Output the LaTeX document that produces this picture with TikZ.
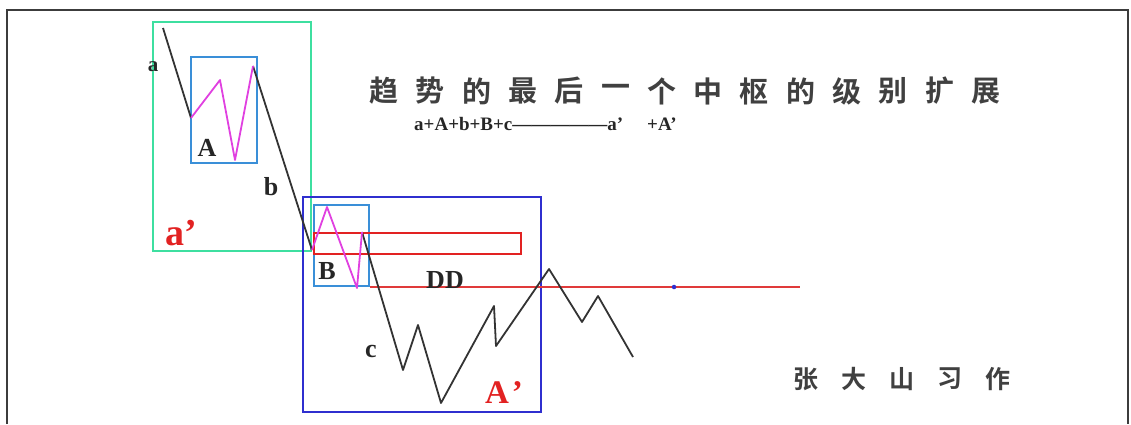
\documentclass[tikz,border=0pt]{standalone}
\usepackage{fontspec}
\setmainfont{Liberation Serif}
\newfontfamily\cjk{Noto Sans CJK SC Bold}
\definecolor{framegray}{HTML}{3C3C3C}
\definecolor{greenbox}{HTML}{3EDFA0}
\definecolor{lightblue}{HTML}{3A8FD8}
\definecolor{deepblue}{HTML}{2F2FCF}
\definecolor{redbox}{HTML}{E22222}
\definecolor{ddred}{HTML}{E03A3A}
\definecolor{pinkline}{HTML}{E040E0}
\definecolor{trendgray}{HTML}{333333}
\begin{document}
\begin{tikzpicture}[
  x=1pt, y=-1pt,
  frame/.style={draw=framegray, line width=2.4pt},
  box/.style={line width=1.8pt},
  trend/.style={draw=trendgray, line width=1.8pt, line join=round},
  sub/.style={draw=pinkline, line width=1.8pt, line join=round},
  lbl/.style={font=\bfseries\fontsize{26}{26}\selectfont, text=black!85, inner sep=0pt},
  big/.style={font=\bfseries\fontsize{38}{38}\selectfont, text=redbox, inner sep=0pt},
  zh/.style={font=\cjk\fontsize{29}{29}\selectfont, text=black!75, inner sep=0pt}
]
\useasboundingbox (0,0) rectangle (1131,424);

% outer frame
\draw[frame] (7,424) -- (7,10) -- (1128,10) -- (1128,424);

% centre boxes
\draw[box, draw=greenbox] (153,22) rectangle (311,251);
\draw[box, draw=lightblue] (191,57) rectangle (257,163);
\draw[box, draw=deepblue] (303,197) rectangle (541,412);
\draw[box, draw=lightblue] (314,205) rectangle (369,286);
\draw[box, draw=redbox] (314,233) rectangle (521,254);

% DD level
\coordinate (ddl) at (370,287);
\coordinate (ddr) at (800,287);
\draw[draw=ddred, line width=1.2pt] (ddl) -- (ddr);
\node[circle, fill=deepblue, inner sep=1.6pt] (dddot) at (674,287) {};

% turning points
\coordinate (p0) at (163,28);
\coordinate (p1) at (191,118);
\coordinate (p2) at (220,80);
\coordinate (p3) at (235,160);
\coordinate (p4) at (253,66);
\coordinate (p5) at (312,250);
\coordinate (p6) at (327,207);
\coordinate (p7) at (357,288);
\coordinate (p8) at (362,232);
\coordinate (p9) at (403,370);
\coordinate (p10) at (418,325);
\coordinate (p11) at (441,403);
\coordinate (p12) at (494,306);
\coordinate (p13) at (496,346);
\coordinate (p14) at (549,269);
\coordinate (p15) at (582,322);
\coordinate (p16) at (598,296);
\coordinate (p17) at (633,357);

% segments a, b, c
\draw[trend] (p0) -- (p1);
\draw[trend] (p4) -- (p5);
\draw[trend] (p8) -- (p9) -- (p10) -- (p11) -- (p12) -- (p13) -- (p14)
  -- (p15) -- (p16) -- (p17);

% centres A, B
\draw[sub] (p1) -- (p2) -- (p3) -- (p4);
\draw[sub] (p5) -- (p6) -- (p7) -- (p8);

% labels
\node[lbl, font=\bfseries\fontsize{21}{21}\selectfont] (la) at (153,67) {a};
\node[lbl] (lA) at (207,148) {A};
\node[lbl] (lb) at (271,187) {b};
\node[big] (lap) at (181,233) {a’};
\node[lbl] (lB) at (327,271) {B};
\node[lbl] (lDD) at (445,280) {DD};
\node[lbl] (lc) at (371,351) {c};
\node[big, font=\bfseries\fontsize{33}{33}\selectfont] (lAp) at (504,393) {A\hspace{3pt}’};

% title and note
\foreach \ch [count=\i from 0] in {趋,势,的,最,后,一,个,中,枢,的,级,别,扩,展}
  \node[zh] (t\i) at (384+46.3*\i,91) {\ch};
\node[lbl, font=\bfseries\fontsize{19}{19}\selectfont, anchor=west] (formula) at (414,124)
  {a+A+b+B+c—————a’\hspace{24pt}+A’};
\foreach \ch [count=\i from 0] in {张,大,山,习,作}
  \node[zh, font=\cjk\fontsize{25}{25}\selectfont] (n\i) at (806+48*\i,379) {\ch};

\end{tikzpicture}
\end{document}
